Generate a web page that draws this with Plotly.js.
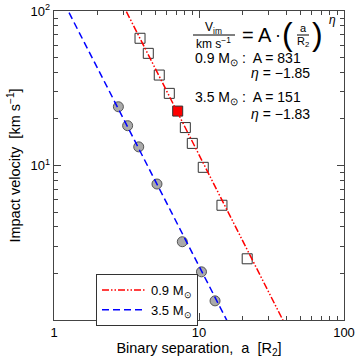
<!DOCTYPE html>
<html>
<head>
<meta charset="utf-8">
<script src="https://cdn.plot.ly/plotly-3.0.1.min.js"></script>
<style>body{margin:0;background:#fff;} #plot{width:360px;height:360px;}</style>
</head>
<body>
<div id="plot"></div>
<script>
// simulated impact velocity vs binary separation, two donor masses

// 0.9 Msun (squares)
let sep_09 = [3.92, 4.47, 5.32, 6.24, 7.13, 8.05, 8.99, 10.7, 14.4, 21.5];
let vel_09 = [66.6, 53.2, 38.5, 29.3, 22.5, 17.6, 13.9, 9.73, 5.53, 2.49];
let highlight_09 = 4; // filled red square

// 3.5 Msun (circles)
let sep_35 = [2.78, 3.22, 3.84, 5.13, 7.67, 10.4, 12.9];
let vel_35 = [24.0, 18.1, 13.2, 7.59, 3.21, 2.05, 1.33];

// power law fits V = A * a^eta
let fit_names = ['0.9 M<sub>⊙</sub>', '3.5 M<sub>⊙</sub>'];
let fit_A = [831, 151];
let fit_eta = [-1.85, -1.83];
let fit_x = [1, 100];

let x_tickvals = [1, 10, 100];
let x_ticktext = ['1', '10', '100'];
let y_tickvals = [10, 100];
let y_ticktext = ['10<sup>1</sup>', '10<sup>2</sup>'];
let minor_x = [2,3,4,5,6,7,8,9,20,30,40,50,60,70,80,90];
let minor_y = [2,3,4,5,6,7,8,9,20,30,40,50,60,70,80,90];

var FONT = 'Liberation Sans, Arial, sans-serif';

// plot box in pixels, for placing the formula text
var L = 54, R = 344, T = 11, B = 320;
function px(x) { return (x - L) / (R - L); }
function py(y) { return (B - y) / (B - T); }

var squares = {
  x: sep_09, y: vel_09,
  type: 'scatter', mode: 'markers', showlegend: false,
  marker: {
    symbol: 'square', size: 10,
    color: sep_09.map((v, i) => i == highlight_09 ? '#ff0000' : '#ffffff'),
    line: {color: '#333', width: 1}
  }
};

var circles = {
  x: sep_35, y: vel_35,
  type: 'scatter', mode: 'markers', showlegend: false,
  marker: {symbol: 'circle', size: 10, color: '#aaaaaa', line: {color: '#555', width: 1}}
};

var dashes = ['7px,2px,1.5px,2px,1.5px,2px', '7px,4px'];
var colors = ['#ff0000', '#0000ff'];
var fits = fit_A.map((A, k) => ({
  x: fit_x,
  y: fit_x.map(a => A * Math.pow(a, fit_eta[k])),
  type: 'scatter', mode: 'lines',
  name: fit_names[k],
  line: {color: colors[k], width: 1.5, dash: dashes[k]}
}));

var data = [squares, circles, fits[0], fits[1]];

function ann(text, x, y, size, anchor, style) {
  return {
    text: text, xref: 'paper', yref: 'paper', x: px(x), y: py(y),
    xanchor: anchor || 'center', yanchor: 'middle', showarrow: false,
    font: {family: FONT, size: size, color: '#000', style: style || 'normal'}
  };
}

var annotations = [
  ann('V<sub>im</sub>', 213, 28, 12),
  ann('km s<sup>−1</sup>', 213, 43, 12),
  ann('=', 248, 35, 20),
  ann('A', 265, 35, 20),
  ann('·', 278, 35, 18),
  ann('(', 287, 34, 32),
  ann('a', 303, 28, 11),
  ann('R<sub>2</sub>', 303, 42, 11),
  ann(')', 317, 34, 32),
  ann('η', 327, 20, 12, 'left', 'italic'),
  ann('0.9 M<sub>⊙</sub> :  A = 831', 193, 59, 14, 'left'),
  ann('<i>η</i> = −1.85', 312, 73, 14, 'right'),
  ann('3.5 M<sub>⊙</sub> :  A = 151', 193, 98, 14, 'left'),
  ann('<i>η</i> = −1.83', 312, 114, 14, 'right')
];

// fraction bars
var shapes = [
  {type: 'line', xref: 'paper', yref: 'paper', x0: px(193), x1: px(235), y0: py(35), y1: py(35), line: {color: '#000', width: 1}},
  {type: 'line', xref: 'paper', yref: 'paper', x0: px(297), x1: px(309), y0: py(35), y1: py(35), line: {color: '#000', width: 1}}
];

var axisCommon = {
  type: 'log', range: [0, 2],
  showgrid: false, zeroline: false,
  showline: true, linecolor: '#444', linewidth: 1.3, mirror: 'allticks',
  ticks: 'inside', ticklen: 7, tickcolor: '#444', tickwidth: 1,
  tickfont: {family: FONT, size: 13, color: '#000'}
};

var layout = {
  width: 360, height: 360,
  margin: {l: L, r: 360 - R, t: T, b: 360 - B},
  paper_bgcolor: '#fff', plot_bgcolor: '#fff',
  font: {family: FONT, color: '#000'},
  xaxis: Object.assign({}, axisCommon, {
    tickvals: x_tickvals, ticktext: x_ticktext,
    minor: {tickvals: minor_x, ticks: 'inside', ticklen: 4, tickcolor: '#444', showgrid: false},
    title: {text: 'Binary separation,  a  [R<sub>2</sub>]', font: {family: FONT, size: 14.5}, standoff: 4}
  }),
  yaxis: Object.assign({}, axisCommon, {
    tickvals: y_tickvals, ticktext: y_ticktext,
    minor: {tickvals: minor_y, ticks: 'inside', ticklen: 4, tickcolor: '#444', showgrid: false},
    title: {text: 'Impact velocity  [km s<sup>−1</sup>]', font: {family: FONT, size: 14.5}, standoff: 6}
  }),
  legend: {
    x: px(96), y: py(274), xanchor: 'left', yanchor: 'top',
    bgcolor: '#fff', bordercolor: '#333', borderwidth: 1,
    tracegroupgap: 0, itemwidth: 44,
    font: {family: FONT, size: 13, color: '#000'}
  },
  annotations: annotations,
  shapes: shapes
};

Plotly.newPlot('plot', data, layout, {staticPlot: true});
</script>
</body>
</html>
